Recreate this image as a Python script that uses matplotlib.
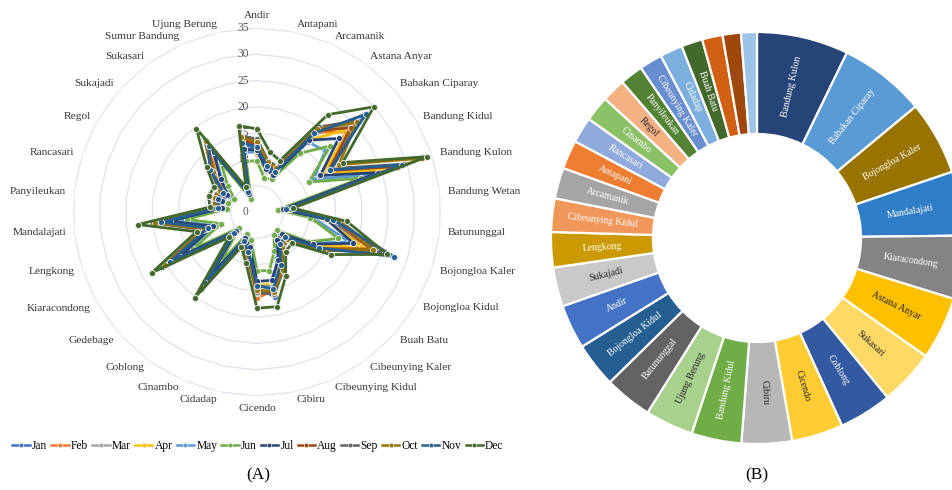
import numpy as np
import matplotlib
matplotlib.use("Agg")
import matplotlib.pyplot as plt
from matplotlib.lines import Line2D

plt.rcParams['font.family'] = ['Liberation Serif', 'DejaVu Serif']

districts = ["Andir", "Antapani", "Arcamanik", "Astana Anyar", "Babakan Ciparay",
             "Bandung Kidul", "Bandung Kulon", "Bandung Wetan", "Batununggal",
             "Bojongloa Kaler", "Bojongloa Kidul", "Buah Batu", "Cibeunying Kaler",
             "Cibeunying Kidul", "Cibiru", "Cicendo", "Cidadap", "Cinambo", "Coblong",
             "Gedebage", "Kiaracondong", "Lengkong", "Mandalajati", "Panyileukan",
             "Rancasari", "Regol", "Sukajadi", "Sukasari", "Sumur Bandung", "Ujung Berung"]

months = ["Jan", "Feb", "Mar", "Apr", "May", "Jun", "Jul", "Aug", "Sep", "Oct", "Nov", "Dec"]

jan = [12.0, 8.6, 8.0, 18.0, 27.0, 15.0, 27.0, 5.5, 14.2, 22.0, 13.5, 7.0, 7.2, 10.8, 16.5, 14.5, 7.5, 6.0, 16.0, 5.8, 18.5, 9.6, 18.0, 7.2, 7.6, 7.2, 10.2, 15.2, 4.0, 13.2]
feb = [12.8, 9.2, 8.6, 18.8, 22.7, 15.5, 27.5, 5.8, 14.8, 22.5, 13.9, 7.4, 7.6, 11.3, 15.2, 16.4, 8.0, 6.3, 16.5, 6.1, 19.0, 10.0, 18.6, 7.5, 8.0, 7.6, 10.7, 15.8, 4.2, 13.7]
mar = [13.2, 9.6, 9.0, 19.3, 24.5, 16.5, 28.5, 6.0, 15.3, 23.5, 14.3, 7.6, 8.0, 11.7, 15.6, 15.0, 8.3, 6.5, 17.2, 6.3, 19.8, 10.4, 19.2, 7.8, 8.3, 8.0, 11.2, 16.4, 4.4, 14.2]
apr = [11.0, 8.0, 7.6, 17.0, 23.5, 14.5, 26.0, 5.2, 13.0, 21.0, 13.0, 6.5, 6.8, 10.2, 14.0, 14.0, 7.0, 5.6, 15.0, 5.5, 17.5, 9.0, 17.2, 6.9, 7.2, 6.8, 9.6, 14.5, 3.8, 12.6]
may = [11.5, 8.2, 7.8, 16.5, 17.4, 12.5, 23.0, 4.6, 10.8, 18.5, 11.8, 6.0, 6.3, 9.5, 14.5, 14.2, 6.5, 5.3, 14.0, 5.2, 16.5, 8.5, 15.5, 6.5, 6.8, 6.2, 9.0, 13.5, 3.5, 11.5]
jun = [9.7, 6.6, 6.8, 13.8, 18.8, 11.4, 20.8, 4.0, 10.2, 16.3, 11.3, 5.2, 5.5, 8.1, 11.4, 11.2, 5.4, 4.6, 12.0, 4.5, 14.0, 7.2, 13.4, 5.8, 5.8, 5.0, 7.5, 11.7, 2.8, 9.9]
jul = [11.8, 8.4, 7.7, 16.9, 20.9, 13.9, 24.3, 4.9, 13.3, 19.3, 12.2, 6.3, 6.6, 10.0, 13.3, 13.2, 6.8, 5.5, 14.8, 5.4, 17.0, 8.8, 16.7, 6.7, 7.0, 6.5, 9.3, 14.0, 3.7, 12.2]
aug = [13.0, 9.4, 8.8, 19.0, 24.0, 15.8, 28.0, 5.9, 15.0, 22.8, 14.0, 7.5, 8.1, 11.8, 15.8, 15.5, 8.4, 6.4, 17.0, 6.2, 19.5, 10.2, 19.0, 7.7, 8.2, 7.8, 11.0, 16.2, 4.3, 14.0]
sep = [13.9, 10.0, 9.4, 20.0, 26.0, 16.5, 29.5, 6.3, 15.8, 24.5, 14.6, 8.0, 8.4, 12.2, 16.0, 15.3, 8.8, 6.7, 18.0, 6.6, 20.8, 10.8, 19.9, 8.1, 8.7, 8.4, 11.6, 16.9, 4.6, 14.8]
oct_ = [13.4, 9.8, 9.1, 19.5, 25.5, 18.0, 33.1, 6.1, 15.5, 23.2, 14.4, 7.8, 8.2, 12.0, 15.5, 14.8, 8.5, 6.6, 17.5, 6.4, 20.2, 10.6, 19.5, 7.9, 8.5, 8.1, 11.3, 16.6, 4.5, 14.5]
nov = [12.4, 9.0, 8.4, 18.5, 27.8, 16.0, 29.0, 5.6, 14.6, 27.4, 13.6, 7.2, 7.5, 11.0, 15.0, 14.0, 7.8, 6.1, 16.8, 6.0, 19.2, 9.8, 18.4, 7.4, 7.8, 7.4, 12.0, 15.6, 4.1, 13.5]
dec = [15.8, 11.7, 10.7, 22.9, 29.9, 18.8, 34.1, 6.9, 17.2, 26.1, 16.2, 8.9, 9.3, 13.4, 18.4, 18.3, 10.0, 7.3, 20.2, 7.2, 23.1, 12.1, 22.8, 9.0, 9.7, 9.4, 12.9, 19.6, 5.2, 16.8]

radial_ticks = [0, 5, 10, 15, 20, 25, 30, 35]

# Donut (B): sorted shares
donut_labels = ["Bandung Kulon", "Babakan Ciparay", "Bojongloa Kaler", "Mandalajati", "Kiaracondong",
                "Astana Anyar", "Sukasari", "Coblong", "Cicendo", "Cibiru", "Bandung Kidul",
                "Ujung Berung", "Batununggal", "Bojongloa Kidul", "Andir", "Sukajadi", "Lengkong",
                "Cibeunying Kidul", "Arcamanik", "Antapani", "Rancasari", "Cinambo", "Regol",
                "Panyileukan", "Cibeunying Kaler", "Cidadap", "Buah Batu", "Gedebage",
                "Bandung Wetan", "Sumur Bandung"]
donut_values = [25.5, 24.1, 20.6, 17.8, 17.6, 17.5, 15.5, 14.7, 14.3, 14.0, 13.9, 13.4, 13.3, 12.4,
                12.3, 10.9, 9.8, 9.3, 8.6, 8.0, 7.2, 7.1, 6.6, 6.4, 6.4, 6.3, 5.9, 5.7, 5.1, 4.4]
hidden_labels = ["Gedebage", "Bandung Wetan", "Sumur Bandung"]

# ---- styles ----
series_colors = ["#4472C4", "#ED7D31", "#A5A5A5", "#FFC000", "#5B9BD5", "#70AD47",
                 "#264478", "#9E480E", "#636363", "#997300", "#255E91", "#43682B"]
district_colors = {
    "Andir": "#4472C4", "Antapani": "#ED7D31", "Arcamanik": "#A5A5A5", "Astana Anyar": "#FFC000",
    "Babakan Ciparay": "#5B9BD5", "Bandung Kidul": "#70AD47", "Bandung Kulon": "#264478",
    "Bandung Wetan": "#9E480E", "Batununggal": "#636363", "Bojongloa Kaler": "#997300",
    "Bojongloa Kidul": "#255E91", "Buah Batu": "#43682B", "Cibeunying Kaler": "#698ED0",
    "Cibeunying Kidul": "#F1975A", "Cibiru": "#B7B7B7", "Cicendo": "#FFCD33", "Cidadap": "#7CAFDD",
    "Cinambo": "#8CC168", "Coblong": "#335AA1", "Gedebage": "#D26012", "Kiaracondong": "#848484",
    "Lengkong": "#CC9A00", "Mandalajati": "#2F7DC6", "Panyileukan": "#548235",
    "Rancasari": "#8FAADC", "Regol": "#F4B183", "Sukajadi": "#C9C9C9", "Sukasari": "#FFD966",
    "Sumur Bandung": "#9DC3E6", "Ujung Berung": "#A9D18E"}
dark_text = {"Regol", "Sukajadi", "Cibiru", "Ujung Berung", "Cicendo", "Astana Anyar", "Sukasari"}

W, H = 953, 490
fig = plt.figure(figsize=(W / 100, H / 100), dpi=100)

# ---------------- Radar (A) ----------------
cx, cy, R = 257, 212, 184
ax = fig.add_axes([(cx - R) / W, (H - cy - R) / H, 2 * R / W, 2 * R / H], projection='polar')
ax.set_theta_zero_location('N')
ax.set_theta_direction(-1)
ax.set_ylim(0, 35)
ax.set_xticks([])
ax.set_yticks([])
ax.grid(False)
ax.spines['polar'].set_visible(False)
ax.patch.set_alpha(0)

n = len(districts)
theta = np.linspace(0, 2 * np.pi, n, endpoint=False)
theta_c = np.append(theta, theta[0])

for r in radial_ticks[1:]:
    ax.plot(theta_c, [r] * (n + 1), color='#DDE2EC', lw=0.9, zorder=0)
for r in radial_ticks:
    ax.annotate(str(r), xy=(0, r), xytext=(-6, 0), textcoords='offset points',
                ha='right', va='center', fontsize=8.3, color='#595959')

label_r = 35 * 192 / R
for t, name in zip(theta, districts):
    deg = np.degrees(t)
    va = 'center'
    if abs(deg) < 1:
        ha, va = 'center', 'bottom'
    elif abs(deg - 180) < 1:
        ha, va = 'center', 'top'
    elif deg < 180:
        ha = 'left'
    else:
        ha = 'right'
    ax.text(t, label_r, name, ha=ha, va=va, fontsize=8.2, color='#333333')

all_series = [jan, feb, mar, apr, may, jun, jul, aug, sep, oct_, nov, dec]
handles = []
for vals, col, m in zip(all_series, series_colors, months):
    v = list(vals) + [vals[0]]
    ax.plot(theta_c, v, color=col, lw=2.0, marker='o', markersize=4.4,
            markerfacecolor=col, markeredgecolor='#E6E6E6', markeredgewidth=0.7, zorder=3)
    handles.append(Line2D([0], [0], color=col, lw=1.8, marker='o', markersize=3.2,
                          markerfacecolor=col, markeredgecolor='#E6E6E6', markeredgewidth=0.5))

fig.legend(handles, months, loc='center', bbox_to_anchor=(258 / W, 1 - 446 / H), ncol=12,
           frameon=False, fontsize=8.3, handlelength=1.5, handletextpad=0.2,
           columnspacing=0.35, borderpad=0)

fig.text(258 / W, 1 - 475 / H, "(A)", ha='center', va='center', fontsize=12.5)
fig.text(757 / W, 1 - 475 / H, "(B)", ha='center', va='center', fontsize=12.5)

# ---------------- Donut (B) ----------------
dx, dy, DR = 757, 238, 206
ax2 = fig.add_axes([(dx - DR) / W, (H - dy - DR) / H, 2 * DR / W, 2 * DR / H])
width = 0.495
wedges, _ = ax2.pie(donut_values, radius=1, startangle=90, counterclock=False,
                    colors=[district_colors[d] for d in donut_labels],
                    wedgeprops=dict(width=width, edgecolor='white', linewidth=1.6))
ax2.set_xlim(-1, 1)
ax2.set_ylim(-1, 1)
ax2.set_aspect('equal')
ax2.axis('off')
mid_r = 1 - width / 2
for w, name in zip(wedges, donut_labels):
    if name in hidden_labels:
        continue
    a = (w.theta1 + w.theta2) / 2
    a = (a + 180) % 360 - 180
    x, y = mid_r * np.cos(np.radians(a)), mid_r * np.sin(np.radians(a))
    rot = a if -90 <= a <= 90 else (a - 180 if a > 90 else a + 180)
    ax2.text(x, y, name, ha='center', va='center', rotation=rot, rotation_mode='anchor',
             fontsize=7, color='#262626' if name in dark_text else 'white')

fig.savefig("out.png", dpi=100)
